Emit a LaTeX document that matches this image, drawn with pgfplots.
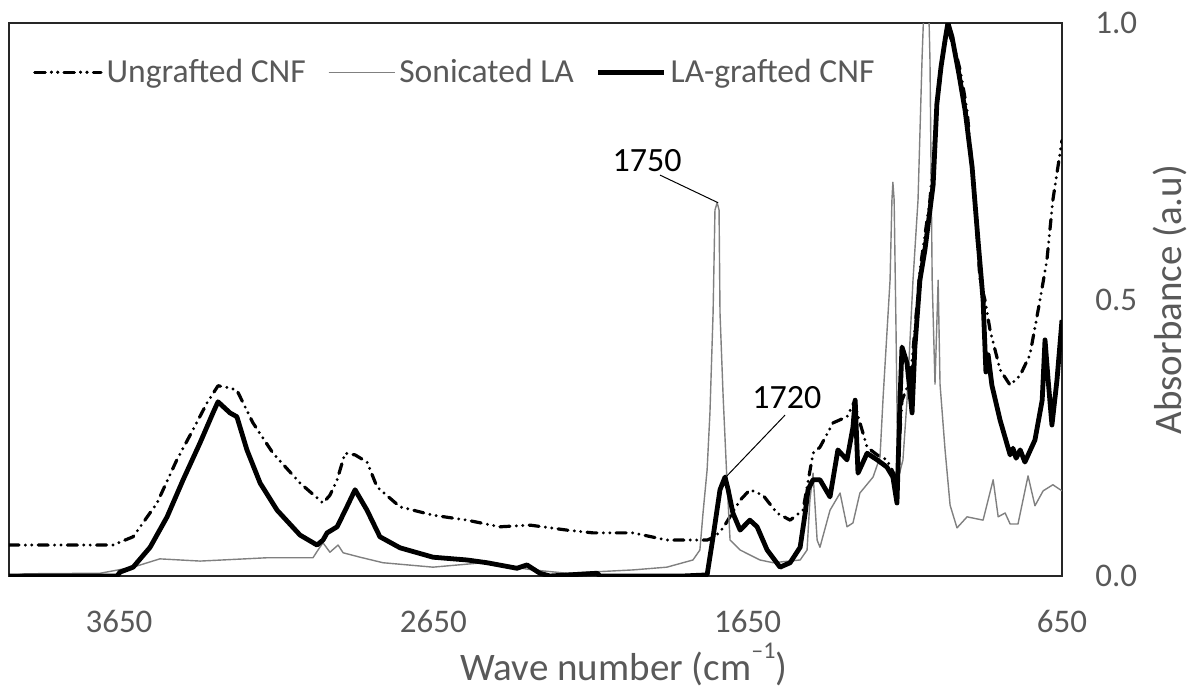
\documentclass[border=0pt]{standalone}
\usepackage{fontspec}
\setmainfont{Carlito}
\usepackage{pgfplots}
\pgfplotsset{compat=1.18}
\definecolor{txt}{HTML}{595959}
\definecolor{lagray}{HTML}{808080}

\begin{document}
\begin{tikzpicture}
\useasboundingbox (0,0) rectangle (599.5pt,349pt);
\begin{axis}[
  at={(4.5pt,61pt)}, anchor=south west,
  width=526.5pt, height=276.5pt, scale only axis,
  x dir=reverse, xmin=650, xmax=4000, ymin=0, ymax=1,
  xtick={650,1650,2650,3650}, ytick={0,0.5,1},
  major tick length=0pt,
  yticklabel pos=right,
  axis line style={draw=black!85, line width=0.6pt},
  /pgf/number format/assume math mode=true,
  tick label style={font=\fontsize{16.5}{19}\selectfont, text=txt},
  xticklabel style={/pgf/number format/1000 sep={}, anchor=base, yshift=-28pt},
  yticklabel style={/pgf/number format/fixed, /pgf/number format/fixed zerofill, /pgf/number format/precision=1, anchor=west, inner sep=0pt, xshift=16.5pt},
  xlabel={Wave number (cm\raisebox{0.55em}{\fontsize{12}{12}\selectfont –1})},
  xlabel style={font=\fontsize{19.5}{22}\selectfont, text=txt, at={(axis description cs:0.584,0)}, anchor=base, yshift=-52pt},
  ylabel={Absorbance (a.u)},
  ylabel style={font=\fontsize{19.5}{22}\selectfont, text=txt, at={(axis description cs:1.1026,0.5)}, anchor=center},
  legend style={at={(0.0228,0.911)}, anchor=west, draw=none, fill=none, font=\fontsize{16.8}{19}\selectfont, text=txt, inner sep=0pt, /tikz/every even column/.append style={column sep=9pt}},
  legend columns=3,
  legend cell align=left,
  legend image code/.code={\draw[#1] (0pt,0pt) -- (28pt,0pt); \path (0pt,0pt) -- (33pt,0pt);},
  every axis plot/.append style={line join=round},
]
% Ungrafted CNF
\addplot[black, line width=1.6pt, line cap=round, dash pattern=on 5pt off 3.2pt on 0pt off 3.2pt on 0pt off 3.2pt] coordinates {
(4000,0.056) (3838,0.056) (3669,0.056) (3605,0.071) (3529,0.132) (3466,0.210) (3415,0.264)
(3370,0.313) (3335,0.344) (3297,0.340) (3275,0.336) (3224,0.277) (3160,0.222) (3074,0.168)
(3001,0.132) (2979,0.146) (2956,0.174) (2931,0.222) (2899,0.219) (2861,0.206) (2829,0.161)
(2756,0.125) (2651,0.110) (2543,0.101) (2438,0.089) (2342,0.092) (2225,0.083) (2142,0.078)
(2015,0.078) (1907,0.065) (1811,0.065) (1779,0.065) (1754,0.071) (1728,0.087) (1674,0.137)
(1643,0.156) (1601,0.146) (1557,0.114) (1515,0.101) (1474,0.119) (1442,0.222) (1420,0.233)
(1378,0.277) (1334,0.288) (1308,0.318) (1302,0.295) (1270,0.233) (1238,0.219) (1207,0.210)
(1175,0.174) (1159,0.318) (1133,0.354) (1118,0.445) (1102,0.553) (1070,0.680) (1048,0.843)
(1032,0.933) (1013,0.987) (990,0.951) (974,0.915) (952,0.843) (927,0.680) (911,0.535)
(895,0.499) (879,0.445) (847,0.373) (815,0.345) (783,0.363) (752,0.400) (720,0.499)
(698,0.571) (679,0.680) (650,0.788)
};
\addlegendentry{Ungrafted CNF}
% Sonicated LA
\addplot[lagray, line width=0.7pt] coordinates {
(4000,0) (3949,0.004) (3710,0.005) (3605,0.016) (3520,0.031) (3392,0.027) (3179,0.033)
(3033,0.033) (3011,0.052) (3001,0.060) (2979,0.043) (2953,0.056) (2937,0.042) (2883,0.034)
(2810,0.024) (2651,0.016) (2492,0.024) (2333,0.011) (2225,0.005) (2015,0.011) (1907,0.016)
(1824,0.029) (1802,0.047) (1792,0.114) (1779,0.192) (1770,0.295) (1760,0.476) (1754,0.662)
(1747,0.675) (1741,0.662) (1738,0.476) (1728,0.324) (1716,0.174) (1706,0.065) (1674,0.047)
(1611,0.029) (1569,0.024) (1483,0.029) (1461,0.047) (1452,0.137) (1442,0.186) (1429,0.065)
(1420,0.052) (1388,0.119) (1356,0.150) (1334,0.089) (1315,0.096) (1293,0.150) (1251,0.179)
(1229,0.215) (1219,0.324) (1207,0.439) (1197,0.535) (1191,0.680) (1188,0.712) (1184,0.680)
(1178,0.445) (1172,0.174) (1156,0.210) (1143,0.318) (1124,0.535) (1108,0.680) (1095,0.939)
(1086,1.08) (1076,1.08) (1070,0.933) (1063,0.535) (1054,0.347) (1044,0.535) (1038,0.347)
(1022,0.228) (1006,0.128) (984,0.087) (952,0.107) (901,0.101) (869,0.174) (853,0.107)
(831,0.114) (815,0.094) (790,0.094) (758,0.181) (736,0.127) (710,0.154) (679,0.165) (650,0.154)
};
\addlegendentry{Sonicated LA}
% LA-grafted CNF
\addplot[black, line width=2.4pt] coordinates {
(4000,0) (3656,0) (3647,0.007) (3605,0.016) (3551,0.052) (3497,0.107) (3446,0.174)
(3392,0.241) (3351,0.295) (3335,0.315) (3297,0.295) (3275,0.288) (3243,0.228) (3201,0.168)
(3147,0.119) (3074,0.074) (3020,0.056) (3001,0.065) (2988,0.078) (2956,0.089) (2925,0.125)
(2899,0.156) (2861,0.119) (2820,0.071) (2756,0.051) (2651,0.034) (2543,0.029) (2479,0.024)
(2384,0.014) (2352,0.020) (2311,0.005) (2279,0) (2129,0.005) (2120,0) (1856,0) (1779,0.002)
(1760,0.071) (1738,0.156) (1722,0.179) (1712,0.156) (1697,0.114) (1674,0.083) (1643,0.101)
(1620,0.089) (1588,0.047) (1547,0.016) (1515,0.024) (1483,0.052) (1467,0.114) (1458,0.156)
(1442,0.174) (1420,0.174) (1388,0.143) (1363,0.228) (1334,0.210) (1315,0.269) (1308,0.318)
(1299,0.186) (1270,0.222) (1238,0.210) (1207,0.197) (1188,0.179) (1175,0.132) (1165,0.324)
(1159,0.414) (1143,0.385) (1127,0.295) (1118,0.414) (1102,0.535) (1086,0.590) (1060,0.707)
(1048,0.854) (1035,0.920) (1022,0.969) (1013,1.000) (1000,0.975) (978,0.908) (958,0.841)
(936,0.740) (917,0.606) (901,0.499) (892,0.369) (885,0.400) (873,0.345) (847,0.282)
(815,0.219) (806,0.231) (796,0.213) (783,0.228) (768,0.206) (736,0.246) (713,0.318)
(704,0.427) (694,0.354) (682,0.273) (666,0.354) (650,0.463)
};
\addlegendentry{LA-grafted CNF}
% annotations
\draw[black, line width=0.5pt] (axis cs:1929,0.725) -- (axis cs:1744,0.675);
\node[font=\fontsize{17}{20}\selectfont, text=black] at (axis cs:1970,0.752) {1750};
\draw[black, line width=0.5pt] (axis cs:1531,0.291) -- (axis cs:1716,0.181);
\node[font=\fontsize{17}{20}\selectfont, text=black] at (axis cs:1525,0.322) {1720};
\end{axis}
\end{tikzpicture}
\end{document}
